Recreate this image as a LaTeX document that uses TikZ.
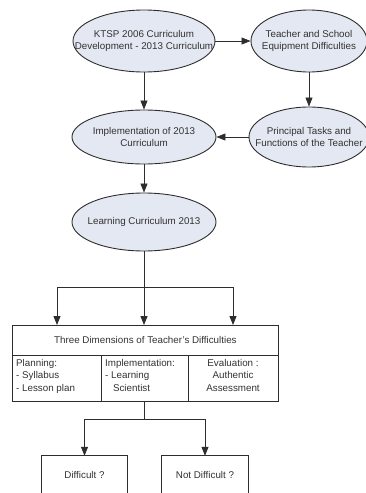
\documentclass[tikz,border=0pt]{standalone}
\usepackage{fontspec}
\setmainfont{Liberation Sans}
\usetikzlibrary{arrows.meta,shapes.geometric,calc}
\definecolor{ellfill}{RGB}{228,232,242}
\definecolor{linec}{RGB}{45,45,45}
\definecolor{txtc}{RGB}{50,50,50}
\tikzset{
  every node/.style={font=\fontsize{9.8}{12}\selectfont, text=txtc},
  ell/.style={ellipse, draw=linec, line width=0.9pt, fill=ellfill, inner sep=0pt, align=center},
  ell text/.style 2 args={path picture={\node[align=center, inner sep=0pt] (#1) at (path picture bounding box.center) {#2};}},
  cell/.style={rectangle, draw=linec, line width=0.8pt, inner sep=0pt, anchor=north west},
  celltext/.style={inner sep=0pt, font=\fontsize{9.8}{12.5}\selectfont},
  arr/.style={draw=linec, line width=0.8pt, -{Triangle[length=9pt,width=7pt]}},
  ln/.style={draw=linec, line width=0.8pt},
}
\begin{document}
\begin{tikzpicture}[x=1pt,y=-1pt]
\useasboundingbox (0,0) rectangle (366,493);
% ellipses (fixed size, text clipped to the ellipse)
\node[ell, minimum width=142, minimum height=62, ell text={e1t}{KTSP 2006 Curriculum\\Development - 2013 Curriculum}] (e1) at (144,41) {};
\node[ell, minimum width=116, minimum height=62, ell text={e2t}{Teacher and School\\Equipment Difficulties}] (e2) at (309,41) {};
\node[ell, minimum width=144, minimum height=54, ell text={e3t}{Implementation of 2013\\Curriculum}] (e3) at (144,137) {};
\node[ell, minimum width=120, minimum height=60, ell text={e4t}{Principal Tasks and\\Functions of the Teacher}] (e4) at (309,137) {};
\node[ell, minimum width=144, minimum height=58, ell text={e5t}{Learning Curriculum 2013}] (e5) at (144,222) {};
% arrows among ellipses
\draw[arr] (e1) -- (e2);
\draw[arr] (e1) -- (e3);
\draw[arr] (e2) -- (e4);
\draw[arr] (e4) -- (e3);
\draw[arr] (e3) -- (e5);
% table
\node[cell, minimum width=266, minimum height=30] (hdr) at (12,325) {};
\node (hdrt) at (hdr.center) {Three Dimensions of Teacher's Difficulties};
\node[cell, minimum width=89, minimum height=46] (c1) at (12,355) {};
\node[cell, minimum width=87, minimum height=46] (c2) at (101,355) {};
\node[cell, minimum width=90, minimum height=46] (c3) at (188,355) {};
\node[celltext, anchor=north west, align=left] (t1) at (16,359) {Planning:\\- Syllabus\\- Lesson plan};
\node[celltext, anchor=north west, align=left] (t2) at (105,359) {Implementation:\\- Learning\\\hspace*{0.8em}Scientist};
\node[celltext, anchor=north, align=center] (t3) at (233,359) {Evaluation :\\Authentic\\Assessment};
% fan-out from e5
\coordinate (j1) at (144,287);
\coordinate (a1) at (57,287);
\coordinate (a3) at (233,287);
\draw[ln] (e5) -- (j1);
\draw[ln] (a1) -- (a3);
\draw[arr] (a1) -- (a1 |- hdr.north);
\draw[arr] (j1) -- (j1 |- hdr.north);
\draw[arr] (a3) -- (a3 |- hdr.north);
% bottom boxes (open at the bottom edge)
\node[rectangle, inner sep=0pt, minimum width=85, minimum height=37] (d1) at (84.5,474.5) {Difficult ?};
\node[rectangle, inner sep=0pt, minimum width=86, minimum height=37] (d2) at (205,474.5) {Not Difficult ?};
\draw[ln] (d1.south west) -- (d1.north west) -- (d1.north east) -- (d1.south east);
\draw[ln] (d2.south west) -- (d2.north west) -- (d2.north east) -- (d2.south east);
% fan-out from table
\coordinate (j2) at (144,419);
\coordinate (b1) at (84.5,419);
\coordinate (b2) at (205,419);
\draw[ln] (c2.south -| j2) -- (j2);
\draw[ln] (b1) -- (b2);
\draw[arr] (b1) -- (d1.north);
\draw[arr] (b2) -- (d2.north);
\end{tikzpicture}
\end{document}
